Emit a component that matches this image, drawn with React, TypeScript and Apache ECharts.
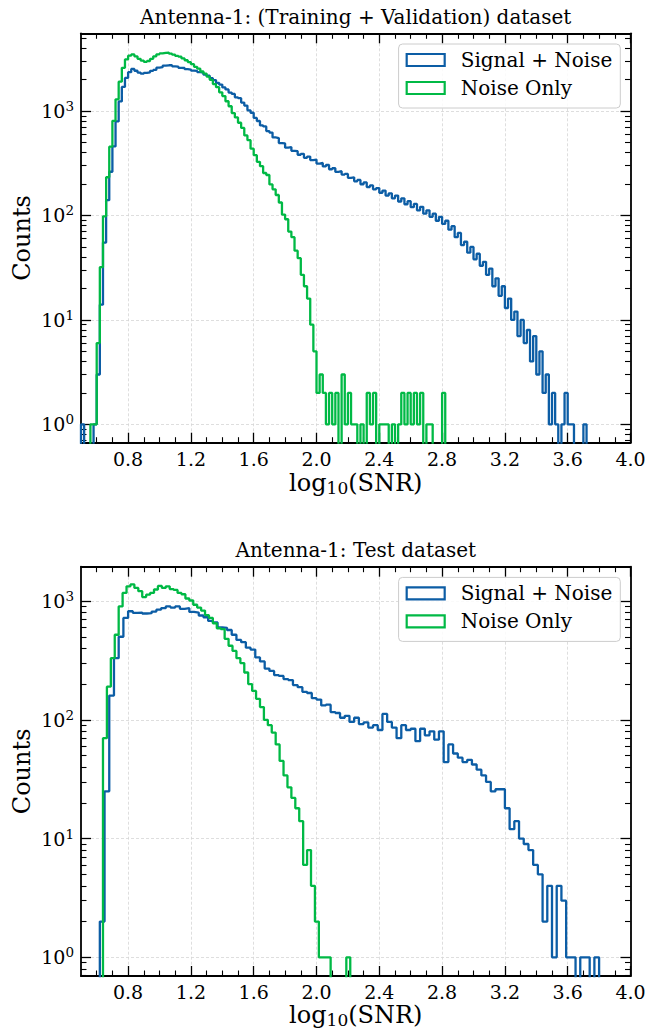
import React, { useEffect, useRef } from 'react';
import * as echarts from 'echarts';

const BLUE = '#0C5DA5';
const GREEN = '#00B945';
const FONT = 'DejaVu Serif';

const SERIES_NAMES = ['Signal + Noise', 'Noise Only'];
const PANEL_TITLES = ['Antenna-1: (Training + Validation) dataset', 'Antenna-1: Test dataset'];
const X_LABEL = 'log10(SNR)';
const Y_LABEL = 'Counts';

const X_MIN = 0.5;
const X_MAX = 4.0;
const X_MAJOR_TICKS = [0.8, 1.2, 1.6, 2.0, 2.4, 2.8, 3.2, 3.6, 4.0];
const Y_MAJOR_TICKS = [1, 10, 100, 1000];

const TOP_Y_RANGE = [0.667, 5546];
const BOT_Y_RANGE = [0.696, 1945];

// Top panel: Signal + Noise (bin start, bin width, counts)
const TOP_SN_START = 0.5;
const TOP_SN_WIDTH = 0.02;
const TOP_SN_COUNTS = [
  1, 0, 0, 0, 1, 3, 14, 55, 140, 262, 458, 795, 1236, 1702, 2075, 2352, 2531, 2428, 2335, 2278,
  2320, 2349, 2425, 2476, 2598, 2627, 2718, 2741, 2745, 2676, 2664, 2589, 2582, 2517, 2494, 2436, 2418, 2361, 2327, 2226,
  2178, 2061, 1979, 1862, 1789, 1683, 1608, 1502, 1458, 1352, 1326, 1204, 1128, 1014, 962, 858, 802, 728, 712, 642,
  622, 558, 551, 493, 489, 446, 452, 416, 412, 381, 389, 356, 366, 339, 343, 314, 318, 295, 304, 277,
  283, 261, 265, 246, 250, 229, 232, 212, 219, 199, 207, 187, 194, 178, 183, 165, 173, 155, 163, 146,
  155, 136, 146, 128, 137, 120, 129, 112, 121, 104, 112, 97, 104, 89, 97, 83, 89, 73, 79, 62,
  68, 52, 56, 44, 50, 38, 43, 33, 36, 27, 31, 21, 25, 17, 21, 13, 16, 10, 12, 7,
  10, 6, 8, 4, 7, 3, 5, 2, 3, 1, 2, 1, 0, 1, 2, 1, 1, 0, 0, 0,
  1, 0,
];

// Top panel: Noise Only
const TOP_NO_START = 0.56;
const TOP_NO_WIDTH = 0.02;
const TOP_NO_COUNTS = [
  1, 1, 6, 32, 98, 232, 455, 806, 1295, 1910, 2590, 3120, 3390, 3480, 3340, 3160, 3040, 2960, 3010, 3160,
  3340, 3490, 3560, 3610, 3630, 3540, 3460, 3370, 3310, 3190, 3060, 2940, 2810, 2650, 2540, 2390, 2280, 2130, 1990, 1810,
  1690, 1510, 1390, 1240, 1110, 955, 868, 772, 688, 584, 526, 436, 378, 326, 296, 255, 244, 198, 178, 157,
  133, 102, 92, 70, 62, 46, 39, 27, 21, 16, 9, 5, 2, 3, 2, 1, 2, 1, 2, 0,
  3, 1, 2, 1, 1, 0, 1, 0, 2, 1, 2, 0, 1, 1, 1, 0, 1, 0, 1, 2,
  1, 2, 1, 2, 1, 2, 0, 1, 1, 0, 0, 0, 2,
];

// Bottom panel: Signal + Noise
const BOT_SN_START = 0.62;
const BOT_SN_WIDTH = 0.03;
const BOT_SN_COUNTS = [
  2, 25, 160, 330, 500, 720, 820, 795, 800, 785, 790, 815, 845, 870, 900, 880, 900, 860, 870, 810,
  800, 755, 730, 680, 660, 600, 595, 570, 520, 470, 450, 405, 390, 335, 310, 270, 258, 238, 234, 220,
  216, 196, 188, 172, 168, 152, 148, 132, 134, 116, 114, 104, 108, 96, 104, 92, 95, 86, 90, 82,
  112, 96, 86, 70, 90, 82, 84, 66, 84, 74, 80, 68, 80, 44, 62, 52, 48, 44, 46, 42,
  38, 34, 30, 25, 26, 26, 18, 12, 14, 10, 9, 8, 6, 5, 2, 4, 1, 4, 3, 1,
  1, 0, 1, 1, 0, 1,
];

// Bottom panel: Noise Only
const BOT_NO_START = 0.64;
const BOT_NO_WIDTH = 0.025;
const BOT_NO_COUNTS = [
  70, 190, 330, 520, 900, 1170, 1330, 1380, 1290, 1210, 1080, 1130, 1170, 1250, 1340, 1290, 1330, 1260, 1240, 1170,
  1140, 1050, 1010, 930, 880, 830, 760, 720, 650, 590, 580, 480, 420, 380, 330, 300, 250, 200, 175, 150,
  128, 100, 90, 78, 62, 45, 34, 27, 22, 18, 14, 6, 8, 4, 2, 1, 1, 1, 0, 0,
  0, 0, 1,
];

const FLOOR = 0.01;

function stepData(start: number, width: number, counts: number[]) {
  const pts: number[][] = [[start, FLOOR]];
  counts.forEach((c, i) => {
    const y = c > 0 ? c : FLOOR;
    const a = +(start + i * width).toFixed(4);
    const b = +(start + (i + 1) * width).toFixed(4);
    pts.push([a, y], [b, y]);
  });
  pts.push([+(start + counts.length * width).toFixed(4), FLOOR]);
  return pts;
}

function xMinorTicks() {
  const out: number[] = [];
  for (let k = 6; k <= 39; k++) {
    if (k % 4 !== 0) out.push(+(k / 10).toFixed(1));
  }
  return out;
}

function yMinorTicks(lo: number, hi: number) {
  const out: number[] = [];
  for (let e = -1; e <= 4; e++) {
    for (let m = 2; m <= 9; m++) {
      const v = m * Math.pow(10, e);
      if (v > lo && v < hi) out.push(+v.toPrecision(3));
    }
  }
  return out;
}

const GRID_LEFT = 81;
const GRID_WIDTH = 549.5;
const PANELS = [
  { top: 33.3, height: 409.4, yr: TOP_Y_RANGE, titleY: 16.9, xLabelY: 483, legendTop: 44,
    sn: stepData(TOP_SN_START, TOP_SN_WIDTH, TOP_SN_COUNTS), no: stepData(TOP_NO_START, TOP_NO_WIDTH, TOP_NO_COUNTS) },
  { top: 566.7, height: 409.3, yr: BOT_Y_RANGE, titleY: 550.3, xLabelY: 1015, legendTop: 577.4,
    sn: stepData(BOT_SN_START, BOT_SN_WIDTH, BOT_SN_COUNTS), no: stepData(BOT_NO_START, BOT_NO_WIDTH, BOT_NO_COUNTS) },
];

const SPINE = { color: '#000', width: 1.8 };
const MAJOR_LEN = 10;
const MINOR_LEN = 5.5;
const LINE_W = 2.3;

function buildOption() {
  const grid: any[] = [];
  const xAxis: any[] = [];
  const yAxis: any[] = [];
  const series: any[] = [];
  const legend: any[] = [];
  const graphic: any[] = [];
  const xMinor = xMinorTicks();

  PANELS.forEach((p, gi) => {
    grid.push({ left: GRID_LEFT, top: p.top, width: GRID_WIDTH, height: p.height, outerBoundsMode: 'none' });
    const yMinor = yMinorTicks(p.yr[0], p.yr[1]);

    const xBase = {
      type: 'value', gridIndex: gi, min: X_MIN, max: X_MAX,
      axisLine: { show: false, onZero: false },
      axisLabel: { show: false }, splitLine: { show: false }, axisTick: { show: false },
    };
    const majorTickX = { show: true, inside: true, length: MAJOR_LEN, lineStyle: { color: '#000', width: 1.3 }, customValues: X_MAJOR_TICKS };
    const minorTickX = { show: true, inside: true, length: MINOR_LEN, lineStyle: { color: '#000', width: 1.1 }, customValues: xMinor };
    xAxis.push({
      ...xBase, position: 'bottom',
      axisLine: { show: true, onZero: false, lineStyle: SPINE },
      axisTick: majorTickX,
      axisLabel: {
        show: true, customValues: X_MAJOR_TICKS, formatter: (v: number) => v.toFixed(1),
        fontSize: 19, fontFamily: FONT, color: '#000', margin: 6, lineHeight: 20,
      },
      splitLine: { show: true, lineStyle: { color: '#d6d6d6', width: 0.8, type: [3, 2] } },
    });
    xAxis.push({ ...xBase, position: 'bottom', axisTick: minorTickX });
    xAxis.push({ ...xBase, position: 'top', axisLine: { show: true, onZero: false, lineStyle: SPINE }, axisTick: majorTickX });
    xAxis.push({ ...xBase, position: 'top', axisTick: minorTickX });

    const yBase = {
      type: 'log', logBase: 10, gridIndex: gi, min: p.yr[0], max: p.yr[1],
      axisLine: { show: false },
      axisLabel: { show: false }, splitLine: { show: false }, axisTick: { show: false },
    };
    const majorTickY = { show: true, inside: true, length: MAJOR_LEN, lineStyle: { color: '#000', width: 1.3 }, customValues: Y_MAJOR_TICKS };
    const minorTickY = { show: true, inside: true, length: MINOR_LEN, lineStyle: { color: '#000', width: 1.1 }, customValues: yMinor };
    yAxis.push({
      ...yBase, position: 'left',
      axisLine: { show: true, lineStyle: SPINE },
      axisTick: majorTickY,
      axisLabel: {
        show: true, customValues: Y_MAJOR_TICKS, margin: 7,
        formatter: (v: number) => `{b|10}{s|${Math.round(Math.log10(v))}}`,
        rich: {
          b: { fontSize: 19, fontFamily: FONT, color: '#000', lineHeight: 24 },
          s: { fontSize: 13.5, fontFamily: FONT, color: '#000', lineHeight: 18, verticalAlign: 'top' },
        },
      },
      splitLine: { show: true, lineStyle: { color: '#d6d6d6', width: 0.8, type: [3, 2] } },
    });
    yAxis.push({ ...yBase, position: 'left', axisTick: minorTickY });
    yAxis.push({ ...yBase, position: 'right', axisLine: { show: true, lineStyle: SPINE }, axisTick: majorTickY });
    yAxis.push({ ...yBase, position: 'right', axisTick: minorTickY });

    const ax = gi * 4;
    series.push({
      type: 'line', name: SERIES_NAMES[0], xAxisIndex: ax, yAxisIndex: ax, data: p.sn,
      showSymbol: false, symbol: 'none', clip: true, z: 3,
      lineStyle: { color: BLUE, width: LINE_W }, itemStyle: { color: BLUE },
    });
    series.push({
      type: 'line', name: SERIES_NAMES[1], xAxisIndex: ax, yAxisIndex: ax, data: p.no,
      showSymbol: false, symbol: 'none', clip: true, z: 4,
      lineStyle: { color: GREEN, width: LINE_W }, itemStyle: { color: GREEN },
    });

    legend.push({
      orient: 'vertical', right: 26.7, top: p.legendTop,
      itemWidth: 38, itemHeight: 12, itemGap: 8,
      padding: [6, 8, 10, 7],
      backgroundColor: 'rgba(255,255,255,0.85)', borderColor: '#cccccc', borderWidth: 1, borderRadius: 4,
      selectedMode: false,
      textStyle: { fontSize: 20, fontFamily: FONT, color: '#000', lineHeight: 20, padding: [0, 0, 0, 11] },
      data: [
        { name: SERIES_NAMES[0], icon: 'rect', itemStyle: { color: 'rgba(0,0,0,0)', borderColor: BLUE, borderWidth: 2.2 } },
        { name: SERIES_NAMES[1], icon: 'rect', itemStyle: { color: 'rgba(0,0,0,0)', borderColor: GREEN, borderWidth: 2.2 } },
      ],
    });

    const cx = GRID_LEFT + GRID_WIDTH / 2;
    graphic.push({
      type: 'text', x: cx, y: p.titleY, z: 10,
      style: { text: PANEL_TITLES[gi], fontSize: 20, fontFamily: FONT, fill: '#000', align: 'center', verticalAlign: 'middle' },
    });
    graphic.push({
      type: 'text', x: cx, y: p.xLabelY, z: 10,
      style: {
        text: '{a|log}{s|10}{a|(SNR)}', align: 'center', verticalAlign: 'middle',
        rich: {
          a: { fontSize: 24, fontFamily: FONT, fill: '#000', lineHeight: 26 },
          s: { fontSize: 17, fontFamily: FONT, fill: '#000', lineHeight: 12, verticalAlign: 'bottom' },
        },
      },
    });
    graphic.push({
      type: 'text', x: 22, y: p.top + p.height / 2, rotation: Math.PI / 2, z: 10,
      style: { text: Y_LABEL, fontSize: 24, fontFamily: FONT, fill: '#000', align: 'center', verticalAlign: 'middle' },
    });
  });

  return {
    animation: false,
    backgroundColor: '#ffffff',
    grid, xAxis, yAxis, series, legend, graphic,
  };
}

export default function App() {
  const ref = useRef<HTMLDivElement>(null);
  useEffect(() => {
    if (!ref.current) return;
    const chart = echarts.init(ref.current, null, { renderer: 'svg' });
    chart.setOption(buildOption() as any);
    return () => chart.dispose();
  }, []);
  return (
    <div
      ref={ref}
      aria-label={X_LABEL}
      style={{ position: 'absolute', left: 0, top: 0, width: 647, height: 1030, background: '#fff' }}
    />
  );
}
